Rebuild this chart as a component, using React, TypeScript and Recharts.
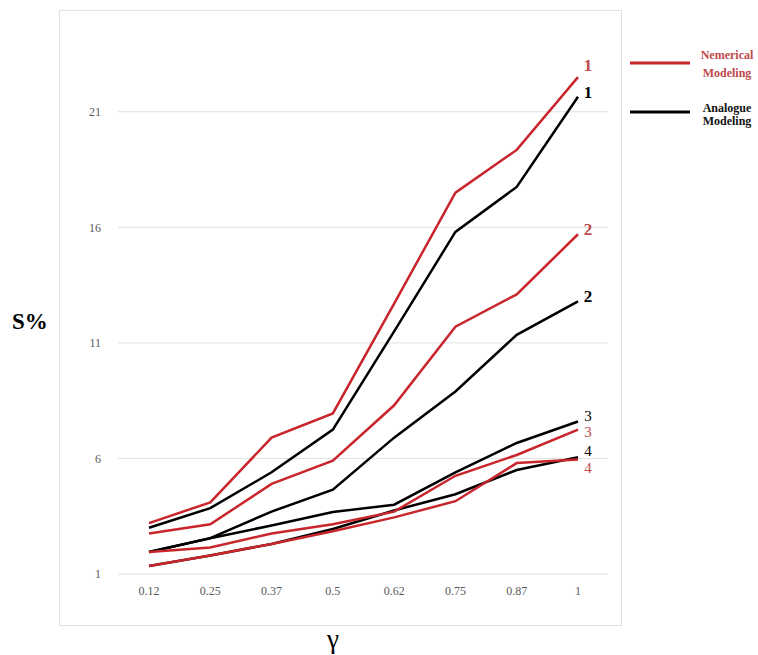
import { LineChart, Line, XAxis, YAxis, ReferenceLine } from "recharts";

const gammas = ["0.12", "0.25", "0.37", "0.5", "0.62", "0.75", "0.87", "1"];
const yTicks = [1, 6, 11, 16, 21];

// numerical modeling (red)
const num1 = [3.2, 4.1, 6.9, 7.95, 12.7, 17.5, 19.35, 22.5];
const num2 = [2.75, 3.15, 4.9, 5.9, 8.3, 11.7, 13.1, 15.7];
const num3 = [1.95, 2.15, 2.75, 3.15, 3.7, 5.25, 6.15, 7.25];
const num4 = [1.35, 1.8, 2.3, 2.85, 3.45, 4.15, 5.8, 5.95];

// analogue modeling (black)
const ana1 = [3.0, 3.85, 5.4, 7.25, 11.5, 15.8, 17.75, 21.65];
const ana2 = [1.95, 2.55, 3.7, 4.65, 6.9, 8.9, 11.35, 12.8];
const ana3 = [1.95, 2.55, 3.1, 3.68, 4.0, 5.4, 6.67, 7.6];
const ana4 = [1.35, 1.8, 2.3, 2.95, 3.75, 4.45, 5.5, 6.05];

const RED = "#c8262c";
const RED_TEXT = "#c0484c";

const data = gammas.map((g, i) => ({
  g,
  n1: num1[i],
  n2: num2[i],
  n3: num3[i],
  n4: num4[i],
  a1: ana1[i],
  a2: ana2[i],
  a3: ana3[i],
  a4: ana4[i],
}));

const series = [
  { key: "a1", color: "#000", label: "1", dy: -5, bold: true },
  { key: "a2", color: "#000", label: "2", dy: -5, bold: true },
  { key: "a3", color: "#000", label: "3", dy: -6, bold: false },
  { key: "a4", color: "#000", label: "4", dy: -7, bold: false },
  { key: "n1", color: RED, label: "1", dy: -12, bold: true },
  { key: "n2", color: RED, label: "2", dy: -5, bold: true },
  { key: "n3", color: RED, label: "3", dy: 2, bold: false },
  { key: "n4", color: RED, label: "4", dy: 8, bold: false },
];

const serif = "'Liberation Serif', 'Times New Roman', serif";

const endLabel = (s: (typeof series)[number]) => (props: any) => {
  const { x, y, index } = props;
  if (index !== gammas.length - 1) return null;
  return (
    <text
      x={x + 10}
      y={y + s.dy}
      dy="0.35em"
      textAnchor="middle"
      fontFamily={serif}
      fontSize={s.bold ? 17 : 15}
      fontWeight={s.bold ? 700 : 400}
      fill={s.color === "#000" ? "#000" : RED_TEXT}
    >
      {s.label}
    </text>
  );
};

export default function App() {
  return (
    <div style={{ position: "absolute", left: 0, top: 0, width: 758, height: 655, background: "#fff", fontFamily: serif }}>
      <div
        style={{
          position: "absolute",
          left: 59,
          top: 10,
          width: 561,
          height: 614,
          border: "1px solid #e2e2e2",
        }}
      />
      <div style={{ position: "absolute", left: 0, top: 0 }}>
        <LineChart width={758} height={655} data={data} margin={{ top: 54, right: 150, bottom: 51, left: 78 }}>
          <XAxis
            dataKey="g"
            axisLine={false}
            tickLine={false}
            tickSize={0}
            tickMargin={12}
            height={30}
            padding={{ left: 31, right: 30 }}
            tick={{ fontFamily: serif, fontSize: 12, fill: "#595959" }}
          />
          <YAxis
            domain={[1, 23.5]}
            ticks={yTicks}
            interval={0}
            axisLine={false}
            tickLine={false}
            tickSize={0}
            tickMargin={17}
            width={40}
            tick={{ fontFamily: serif, fontSize: 12, fill: "#595959" }}
          />
          {yTicks.map((t) => (
            <ReferenceLine key={t} y={t} stroke="#e0e0e0" strokeWidth={1} />
          ))}
          {series.map((s) => (
            <Line
              key={s.key}
              dataKey={s.key}
              stroke={s.color}
              strokeWidth={2.5}
              dot={false}
              activeDot={false}
              type="linear"
              isAnimationActive={false}
              label={endLabel(s)}
            />
          ))}
        </LineChart>
      </div>
      <div style={{ position: "absolute", left: 12, top: 309, fontSize: 23, fontWeight: 700 }}>S%</div>
      <div style={{ position: "absolute", left: 327, top: 624, fontSize: 27 }}>γ</div>
      <svg style={{ position: "absolute", left: 620, top: 40 }} width={138} height={100}>
        <line x1={10} y1={23} x2={70} y2={23} stroke={RED} strokeWidth={3} />
        <line x1={10} y1={72} x2={70} y2={72} stroke="#000" strokeWidth={3} />
        <text x={107} y={15} dy="0.35em" textAnchor="middle" fontFamily={serif} fontSize={12} fontWeight={700} fill={RED_TEXT}>
          Nemerical
        </text>
        <text x={107} y={33} dy="0.35em" textAnchor="middle" fontFamily={serif} fontSize={12} fontWeight={700} fill={RED_TEXT}>
          Modeling
        </text>
        <text x={107} y={68} dy="0.35em" textAnchor="middle" fontFamily={serif} fontSize={12} fontWeight={700} fill="#111">
          Analogue
        </text>
        <text x={107} y={81} dy="0.35em" textAnchor="middle" fontFamily={serif} fontSize={12} fontWeight={700} fill="#111">
          Modeling
        </text>
      </svg>
    </div>
  );
}
